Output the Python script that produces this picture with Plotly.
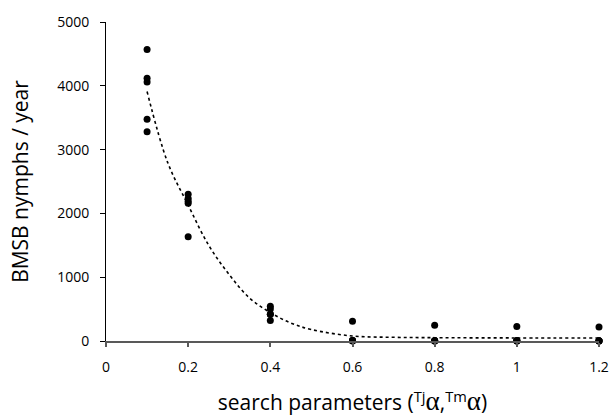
import plotly.graph_objects as go

# Observed data (search parameter, BMSB nymphs / year)
x_obs = [0.1, 0.1, 0.1, 0.1, 0.1,
         0.2, 0.2, 0.2, 0.2, 0.2,
         0.4, 0.4, 0.4, 0.4, 0.4,
         0.6, 0.6, 0.6, 0.6, 0.6,
         0.8, 0.8, 0.8, 0.8, 0.8,
         1.0, 1.0, 1.0, 1.0, 1.0,
         1.2, 1.2, 1.2, 1.2, 1.2]
y_obs = [4570, 4120, 4060, 3475, 3280,
         2300, 2235, 2190, 2160, 1635,
         545, 500, 420, 420, 320,
         310, 12, 5, 2, 0,
         248, 8, 3, 1, 0,
         228, 6, 2, 1, 0,
         218, 5, 2, 1, 0]

# Dotted trend line
x_trend = [0.1, 0.15, 0.2, 0.25, 0.3, 0.35, 0.4, 0.45, 0.5, 0.6, 0.7, 0.8, 1.0, 1.2]
y_trend = [3910, 2800, 2130, 1500, 1040, 670, 445, 282, 180, 78, 58, 52, 48, 46]

x_ticks = [0, 0.2, 0.4, 0.6, 0.8, 1.0, 1.2]
x_tick_labels = ["0", "0.2", "0.4", "0.6", "0.8", "1", "1.2"]
y_ticks = [0, 1000, 2000, 3000, 4000, 5000]

fig = go.Figure()
fig.add_trace(go.Scatter(x=x_trend, y=y_trend, mode="lines",
                         line=dict(color="black", width=1.6, dash="dot", shape="spline"),
                         hoverinfo="skip", showlegend=False, cliponaxis=False))
fig.add_trace(go.Scatter(x=x_obs, y=y_obs, mode="markers",
                         marker=dict(color="black", size=7),
                         showlegend=False, cliponaxis=False))

alpha = "<span style='font-family:Liberation Serif;font-size:27px'>α</span>"
font_family = "Open Sans, Lato, sans-serif"
fig.update_layout(
    width=613, height=417,
    margin=dict(l=106, r=14, t=22, b=76),
    paper_bgcolor="white", plot_bgcolor="white",
    font=dict(family=font_family, color="black", size=14),
    xaxis=dict(range=[0, 1.2], tickvals=x_ticks, ticktext=x_tick_labels,
               showgrid=False, zeroline=False, showline=True, automargin=False,
               linecolor="#595959", linewidth=2,
               ticks="outside", ticklen=4, tickcolor="#595959", tickwidth=1.5,
               tickfont=dict(size=14), ticklabelstandoff=8,
               title=dict(text="search parameters (<sup>Tj</sup>" + alpha + ",<sup>Tm</sup>" + alpha + ")",
                          font=dict(size=21), standoff=21)),
    yaxis=dict(range=[0, 5000], tickvals=y_ticks,
               showgrid=False, zeroline=False, showline=True, automargin=False,
               linecolor="black", linewidth=1,
               ticks="outside", ticklen=5, tickcolor="black", tickwidth=1,
               tickfont=dict(size=14), ticklabelstandoff=8,
               title=dict(text="BMSB nymphs / year", font=dict(size=21), standoff=22)),
)

fig.write_html("out.html")
